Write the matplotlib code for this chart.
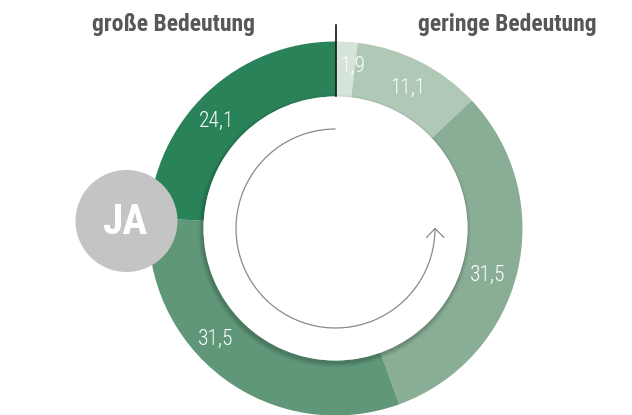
import matplotlib
matplotlib.use("Agg")
import matplotlib.pyplot as plt
from matplotlib.patches import Circle, Arc
import numpy as np

# Data
values = [1.9, 11.1, 31.5, 31.5, 24.1]
labels = ["1,9", "11,1", "31,5", "31,5", "24,1"]
colors = ["#d6e3d9", "#b0c9b7", "#8aae95", "#5f9778", "#2a8259"]
title_left = "große Bedeutung"
title_right = "geringe Bedeutung"
badge_text = "JA"

W, H = 632, 415
fig = plt.figure(figsize=(W / 100, H / 100), dpi=100)
ax = fig.add_axes([0, 0, 1, 1])

FONT = ["Roboto Condensed", "DejaVu Sans"]

cx, cy = 335.5, H - 228.5
R, r_in = 187, 132

wedges, _ = ax.pie(values, colors=colors, startangle=90, counterclock=False,
                   radius=R, center=(cx, cy),
                   wedgeprops=dict(width=R - r_in, linewidth=0), frame=True)
ax.set_xlim(0, W)
ax.set_ylim(0, H)
ax.set_aspect("auto")
ax.axis("off")

# inner shadow
for k, a in zip(range(6, 0, -1), [0.015, 0.022, 0.03, 0.037, 0.044, 0.05]):
    ax.add_patch(Circle((cx - 1, cy - 2.5), r_in + k * 0.8, color="black", alpha=a, lw=0, zorder=3))
ax.add_patch(Circle((cx, cy), r_in, color="white", lw=0, zorder=4))

# labels
angle_offsets = [-2.7, -0.5, -3.8, -10.5, 4.9]
label_r = [163, 158, 159, 163, 160]
for w, lab, off, lr in zip(wedges, labels, angle_offsets, label_r):
    mid = np.deg2rad((w.theta1 + w.theta2) / 2 + off)
    ax.text(cx + lr * np.cos(mid), cy + lr * np.sin(mid), lab, color="white",
            fontsize=15.5, family=FONT, fontweight=300, ha="center", va="center", zorder=6)

# vertical line at start
ax.plot([cx, cx], [H - 25, cy + r_in], color="black", lw=1.1, zorder=5)

# rotating arrow
ra = 99.5
ax.add_patch(Arc((cx, cy), 2 * ra, 2 * ra, theta1=90, theta2=360,
                 color="#8a8a8a", lw=0.9, zorder=5))
tipx, tipy = cx + ra, cy
ax.plot([tipx - 8.5, tipx, tipx + 9], [tipy - 9, tipy, tipy - 9],
        color="#8a8a8a", lw=0.9, zorder=5, solid_capstyle="round")

# titles
ax.text(173, H - 25, title_left, color="#575757", fontsize=17, fontweight="bold",
        family=FONT, ha="center", va="center")
ax.text(507, H - 25, title_right, color="#575757", fontsize=17, fontweight="bold",
        family=FONT, ha="center", va="center")

# JA badge
ax.add_patch(Circle((126.5, H - 221), 51, color="#c4c4c4", lw=0, zorder=7))
ax.text(125, H - 222, badge_text, color="white", fontsize=30, fontweight="bold",
        family=FONT, ha="center", va="center", zorder=8)

fig.savefig("out.png", dpi=100)
